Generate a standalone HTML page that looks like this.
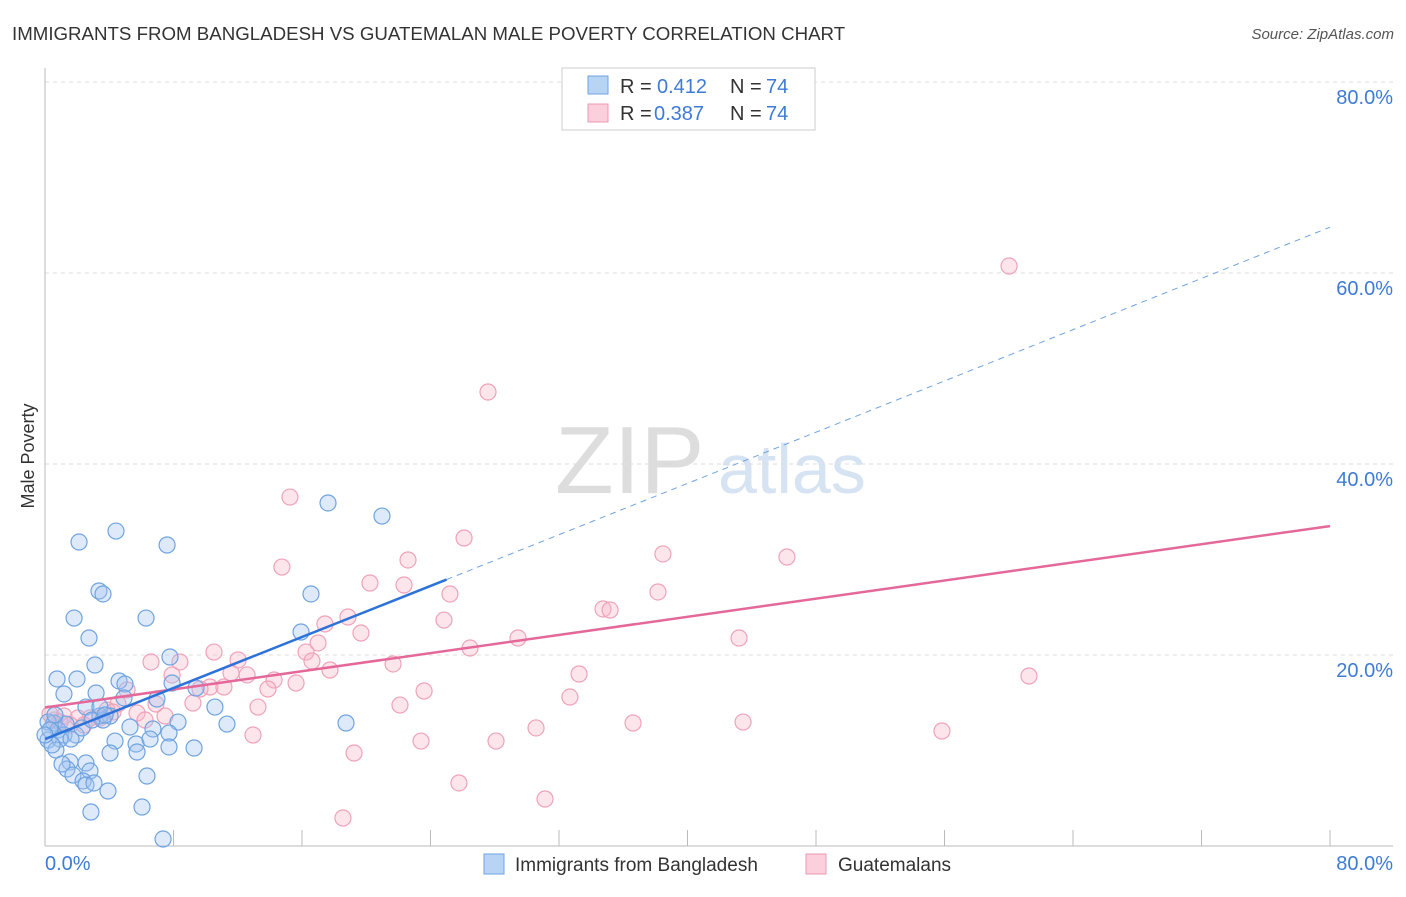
<!DOCTYPE html>
<html><head><meta charset="utf-8"><style>
body{margin:0;background:#fff;font-family:"Liberation Sans",sans-serif}
svg text{font-family:"Liberation Sans",sans-serif}
</style></head><body>
<svg id="chart" width="1406" height="892" xmlns="http://www.w3.org/2000/svg">
<text x="12" y="40" font-size="18.7" fill="#333">IMMIGRANTS FROM BANGLADESH VS GUATEMALAN MALE POVERTY CORRELATION CHART</text>
<text x="1394" y="39" font-size="15" fill="#555" text-anchor="end" font-style="italic">Source: ZipAtlas.com</text>
<text x="34" y="456" font-size="18" fill="#333" text-anchor="middle" transform="rotate(-90 34 456)">Male Poverty</text>
<text x="555" y="493" font-size="96" fill="#ddd" font-family="Liberation Serif">ZIP</text>
<text x="718" y="493" font-size="70" fill="#d5e3f3">atlas</text>
<g id="grid"></g><g id="axes"></g><g id="pts"></g><g id="lines"></g>
<g>
<rect x="562" y="68" width="253" height="62" fill="#fff" stroke="#ccc"/>
<rect x="588" y="76" width="20" height="18" fill="#b8d4f5" stroke="#6fa3e0"/>
<text x="620" y="93" font-size="20" fill="#333">R = </text>
<text x="657" y="93" font-size="20" fill="#3e7bd6">0.412</text>
<text x="730" y="93" font-size="20" fill="#333">N = </text>
<text x="766" y="93" font-size="20" fill="#3e7bd6">74</text>
<rect x="588" y="104" width="20" height="18" fill="#fbcfdc" stroke="#ee9ab4"/>
<text x="620" y="120" font-size="20" fill="#333">R = </text>
<text x="654" y="120" font-size="20" fill="#3e7bd6">0.387</text>
<text x="730" y="120" font-size="20" fill="#333">N = </text>
<text x="766" y="120" font-size="20" fill="#3e7bd6">74</text>
</g>
<g>
<rect x="484" y="854" width="20" height="20" fill="#b8d4f5" stroke="#6fa3e0"/>
<text x="515" y="871" font-size="19" fill="#333">Immigrants from Bangladesh</text>
<rect x="806" y="854" width="20" height="20" fill="#fbcfdc" stroke="#ee9ab4"/>
<text x="838" y="871" font-size="19" fill="#333">Guatemalans</text>
</g>
</svg>
<script>
const yTicks=[20,40,60,80];
const yTickLabels=["20.0%","40.0%","60.0%","80.0%"];
const xTicks=[0,8,16,24,32,40,48,56,64,72,80];
const bluePx=[[79,542],[116,531],[167,545],[328,503],[382,516],[99,591],[103,594],[74,618],[146,618],[311,594],[89,638],[301,632],[170,657],[95,665],[57,679],[77,679],[119,681],[125,684],[64,694],[96,693],[157,699],[172,683],[196,688],[215,707],[86,707],[100,716],[110,716],[103,720],[54,723],[48,722],[58,730],[64,735],[76,735],[82,728],[48,740],[60,739],[71,739],[115,741],[130,727],[153,729],[178,722],[227,724],[346,723],[136,744],[150,739],[169,733],[169,747],[194,748],[110,753],[137,752],[56,750],[70,762],[67,769],[62,764],[86,763],[90,771],[73,775],[83,781],[86,785],[94,783],[108,791],[147,776],[142,807],[91,812],[163,839],[50,730],[52,745],[66,724],[100,707],[92,720],[124,698],[45,735],[55,715],[105,715]];
const pinkPx=[[1009,266],[488,392],[290,497],[464,538],[663,554],[787,557],[408,560],[282,567],[370,583],[404,585],[450,594],[658,592],[603,609],[610,610],[444,620],[348,617],[325,624],[361,633],[518,638],[739,638],[318,643],[470,648],[306,652],[214,652],[312,661],[238,660],[180,662],[151,662],[393,664],[330,670],[579,674],[1029,676],[172,675],[231,673],[247,675],[274,680],[296,683],[210,687],[224,687],[268,689],[200,689],[127,690],[424,691],[570,697],[193,703],[258,707],[400,705],[118,704],[156,704],[107,710],[137,713],[165,716],[145,720],[100,718],[90,718],[78,718],[64,716],[55,720],[633,723],[743,722],[536,728],[253,735],[942,731],[421,741],[496,741],[354,753],[459,783],[545,799],[343,818],[50,714],[70,725],[113,712],[84,725],[60,722]];
// convert read positions to data values (percent)
const blueX=bluePx.map(p=>+((p[0]-45)/1285*80).toFixed(2));
const blueY=bluePx.map(p=>+((846-p[1])/191*20).toFixed(2));
const pinkX=pinkPx.map(p=>+((p[0]-45)/1285*80).toFixed(2));
const pinkY=pinkPx.map(p=>+((846-p[1])/191*20).toFixed(2));
const blueTrend=[[0,11.2],[25,27.9]], blueDash=[[25,27.9],[80,64.8]];
const pinkTrend=[[0,14.5],[80,33.5]];
const X=v=>45+v/80*1285, Y=v=>846-v/20*191;
const NS="http://www.w3.org/2000/svg";
function mk(t,a,p){const e=document.createElementNS(NS,t);for(const k in a)e.setAttribute(k,a[k]);p.appendChild(e);return e;}
const grid=document.getElementById('grid'),axes=document.getElementById('axes'),pts=document.getElementById('pts'),lines=document.getElementById('lines');
yTicks.forEach((v,i)=>{
 const l=mk('line',{x1:45,x2:1393,y1:Y(v),y2:Y(v),stroke:'#ddd','stroke-dasharray':'4,4'},grid);
 
 
 const t=mk('text',{x:1393,y:Y(v)+22,'font-size':20,fill:'#3e7bd6','text-anchor':'end'},axes);
 t.textContent=yTickLabels[i];
 
 
});
mk('line',{x1:45,x2:45,y1:68,y2:846,stroke:'#bbb'},axes);
mk('line',{x1:45,x2:1393,y1:846,y2:846,stroke:'#bbb'},axes);
xTicks.forEach(v=>{const l=mk('line',{x1:X(v),x2:X(v),y1:830,y2:846,stroke:'#bbb'},axes);
 
 });
let t1=mk('text',{x:45,y:870,'font-size':20,fill:'#3e7bd6'},axes);t1.textContent='0.0%';


let t2=mk('text',{x:1393,y:870,'font-size':20,fill:'#3e7bd6','text-anchor':'end'},axes);t2.textContent='80.0%';


function dots(xs,ys,fill,stroke,name){xs.forEach((x,i)=>{const c=mk('circle',{cx:X(x),cy:Y(ys[i]),r:8,fill:fill,stroke:stroke,'stroke-width':1.2},pts);
 
 });}
dots(pinkX,pinkY,'rgba(248,180,200,0.35)','#efa2b9','guatemalan-point');
dots(blueX,blueY,'rgba(160,196,240,0.35)','#6fa3e0','bangladesh-point');
function ln(s,col,w,dash,name){const l=mk('line',{x1:X(s[0][0]),y1:Y(s[0][1]),x2:X(s[1][0]),y2:Y(s[1][1]),stroke:col,'stroke-width':w},lines);if(dash)l.setAttribute('stroke-dasharray',dash);
 
 }
ln(pinkTrend,'#e4689a',2.5,null,'guatemalan-trendline');
ln(blueTrend,'#2d72d9',2.5,null,'bangladesh-trendline');
ln(blueDash,'#6fa3e0',1,'6,5','bangladesh-trend-extension');
</script>
</body></html>
